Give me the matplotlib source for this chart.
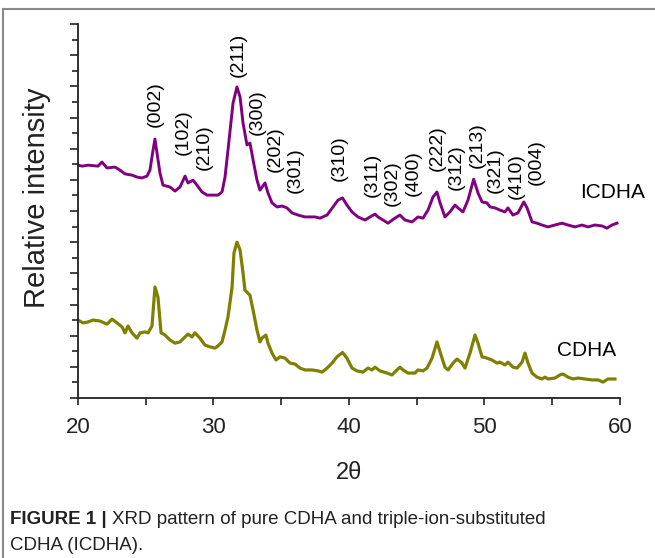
import matplotlib
matplotlib.use("Agg")
import matplotlib.pyplot as plt
from matplotlib.lines import Line2D
from matplotlib.ticker import MultipleLocator
from matplotlib import font_manager

# XRD patterns (2-theta in degrees, intensity in arbitrary units)
icdha_2theta = [20.0, 20.30, 20.74, 21.48, 21.77, 22.14, 22.73, 23.10, 23.47, 23.99, 24.35, 24.72,
                25.09, 25.31, 25.54, 25.68, 25.83, 26.05, 26.27, 26.79, 27.16, 27.53, 27.90, 28.12,
                28.49, 28.78, 29.15, 29.52, 29.96, 30.33, 30.63, 30.85, 31.07, 31.44, 31.73, 31.96,
                32.18, 32.47, 32.69, 32.92, 33.21, 33.43, 33.80, 34.02, 34.32, 34.69, 35.06, 35.42,
                35.79, 36.24, 36.75, 37.49, 37.86, 38.38, 38.82, 39.19, 39.52, 39.85, 40.22, 40.66,
                41.18, 41.55, 41.92, 42.14, 42.51, 42.88, 43.39, 43.76, 44.13, 44.65, 45.09, 45.46,
                45.83, 46.20, 46.49, 46.72, 47.08, 47.45, 47.82, 48.04, 48.41, 48.78, 49.20, 49.52,
                49.82, 50.18, 50.41, 50.77, 51.14, 51.51, 51.73, 52.10, 52.47, 52.90, 53.14, 53.51,
                53.87, 54.24, 54.69, 55.20, 55.72, 56.16, 56.68, 57.20, 57.64, 58.15, 58.67, 59.04,
                59.41, 59.78]
icdha_int = [7.47, 7.44, 7.47, 7.44, 7.57, 7.38, 7.41, 7.31, 7.19, 7.15, 7.09, 7.06,
             7.12, 7.31, 7.96, 8.31, 7.86, 7.22, 6.83, 6.77, 6.64, 6.77, 7.12, 6.90,
             6.99, 6.83, 6.61, 6.51, 6.51, 6.51, 6.61, 7.09, 7.96, 9.46, 9.98, 9.66,
             8.82, 8.12, 8.18, 7.64, 6.99, 6.67, 6.90, 6.58, 6.26, 6.13, 6.16, 6.10,
             5.94, 5.87, 5.81, 5.81, 5.77, 5.87, 6.13, 6.35, 6.42, 6.19, 5.97, 5.81,
             5.71, 5.81, 5.90, 5.81, 5.71, 5.61, 5.77, 5.87, 5.71, 5.65, 5.81, 5.77,
             6.03, 6.45, 6.61, 6.26, 5.81, 5.97, 6.19, 6.10, 5.97, 6.35, 7.02, 6.58,
             6.29, 6.26, 6.13, 6.10, 6.03, 5.97, 6.10, 5.87, 5.94, 6.29, 6.10, 5.65,
             5.61, 5.55, 5.49, 5.55, 5.61, 5.55, 5.49, 5.55, 5.49, 5.55, 5.52, 5.45,
             5.55, 5.61]

cdha_2theta = [20.0, 20.37, 20.74, 21.11, 21.62, 22.14, 22.51, 22.88, 23.25, 23.47, 23.69, 23.99,
               24.35, 24.58, 24.94, 25.17, 25.46, 25.68, 25.90, 26.13, 26.42, 26.79, 27.16, 27.53,
               27.90, 28.12, 28.41, 28.63, 29.00, 29.37, 29.74, 30.11, 30.33, 30.63, 30.85, 31.07,
               31.37, 31.51, 31.73, 31.96, 32.18, 32.32, 32.69, 32.92, 33.21, 33.43, 33.58, 33.87,
               34.02, 34.32, 34.61, 34.91, 35.28, 35.65, 36.01, 36.38, 36.75, 37.27, 37.71, 38.01,
               38.38, 38.75, 39.11, 39.52, 39.85, 40.22, 40.59, 41.03, 41.40, 41.70, 41.92, 42.29,
               42.80, 43.17, 43.54, 43.76, 43.99, 44.35, 44.87, 45.09, 45.46, 45.76, 46.13, 46.49,
               46.72, 47.08, 47.31, 47.68, 47.97, 48.34, 48.56, 48.93, 49.30, 49.52, 49.82, 50.18,
               50.55, 50.92, 51.14, 51.51, 51.73, 52.10, 52.40, 52.77, 52.99, 53.21, 53.51, 53.87,
               54.24, 54.47, 54.69, 55.20, 55.57, 55.79, 56.16, 56.53, 56.90, 57.42, 57.93, 58.38,
               58.75, 59.11, 59.63]
cdha_int = [2.50, 2.41, 2.44, 2.50, 2.47, 2.37, 2.53, 2.41, 2.28, 2.09, 2.31, 2.09,
            1.92, 2.09, 2.12, 2.09, 2.31, 3.56, 3.24, 2.09, 2.02, 1.86, 1.76, 1.80,
            1.96, 2.05, 1.96, 2.09, 1.92, 1.70, 1.64, 1.60, 1.67, 1.80, 2.18, 2.60,
            3.56, 4.65, 5.00, 4.75, 4.01, 3.46, 3.30, 2.82, 2.18, 1.80, 1.92, 2.02,
            1.76, 1.44, 1.22, 1.32, 1.28, 1.12, 1.09, 0.96, 0.90, 0.90, 0.87, 0.83,
            0.96, 1.12, 1.32, 1.46, 1.28, 0.96, 0.87, 0.83, 0.96, 0.90, 0.99, 0.87,
            0.80, 0.74, 0.90, 0.99, 0.90, 0.80, 0.80, 0.90, 0.87, 0.96, 1.28, 1.80,
            1.48, 0.99, 0.90, 1.12, 1.25, 1.12, 0.96, 1.44, 2.02, 1.76, 1.32, 1.28,
            1.22, 1.12, 1.15, 1.06, 1.15, 0.99, 0.96, 1.15, 1.44, 1.12, 0.80, 0.67,
            0.61, 0.67, 0.61, 0.64, 0.74, 0.77, 0.67, 0.61, 0.64, 0.61, 0.58, 0.58,
            0.51, 0.61, 0.61]

# Miller indices annotated above the ICDHA pattern
hkl_labels = ["(002)", "(102)", "(210)", "(211)", "(300)", "(202)", "(301)", "(310)", "(311)",
              "(302)", "(400)", "(222)", "(312)", "(213)", "(321)", "(410)", "(004)"]
hkl_2theta = [25.68, 27.75, 29.30, 31.81, 33.21, 34.55, 36.02, 39.26, 41.70,
              43.20, 44.75, 46.49, 47.90, 49.45, 50.78, 52.32, 53.85]
hkl_height = [9.43, 8.53, 8.05, 11.00, 9.18, 7.99, 7.31, 7.70, 7.15,
              6.90, 7.22, 8.02, 7.41, 8.12, 7.31, 7.12, 7.57]

PURPLE = "#800080"
OLIVE = "#808000"
INK = "#222222"

installed = {f.name for f in font_manager.fontManager.ttflist}
NARROW = "Liberation Sans Narrow" if "Liberation Sans Narrow" in installed else "Liberation Sans"
SANS = "Liberation Sans"
plt.rcParams["font.family"] = [SANS, "DejaVu Sans"]

fig = plt.figure(figsize=(6.55, 5.58), dpi=100)
ax = fig.add_axes([78 / 655, 160 / 558, 542 / 655, 374 / 558])

ax.plot(icdha_2theta, icdha_int, color=PURPLE, lw=2.1, solid_joinstyle="round")
ax.plot(cdha_2theta, cdha_int, color=OLIVE, lw=2.3, solid_joinstyle="round")

for lab, x, y in zip(hkl_labels, hkl_2theta, hkl_height):
    ax.text(x, y, lab, rotation=90, ha="center", va="center", fontsize=14, family=SANS)

ax.text(57.07, 6.58, "ICDHA", ha="left", va="center", fontsize=15, family=SANS, clip_on=False)
ax.text(55.35, 1.51, "CDHA", ha="left", va="center", fontsize=15, family=SANS)

ax.set_xlim(20, 60)
ax.set_ylim(0, 12)
ax.xaxis.set_major_locator(MultipleLocator(10))
ax.xaxis.set_minor_locator(MultipleLocator(5))
ax.yaxis.set_major_locator(MultipleLocator(1))
ax.yaxis.set_minor_locator(MultipleLocator(0.5))
ax.tick_params(which="both", direction="out", width=1.2, color=INK)
ax.tick_params(axis="x", which="both", length=5)
ax.tick_params(axis="y", which="major", length=6)
ax.tick_params(axis="y", which="minor", length=4)
ax.tick_params(axis="y", labelleft=False)
ax.tick_params(axis="x", labelsize=16, pad=9, labelcolor=INK)
for side in ["top", "right"]:
    ax.spines[side].set_visible(False)
for side in ["left", "bottom"]:
    ax.spines[side].set_linewidth(1.3)
    ax.spines[side].set_color(INK)

ax.set_ylabel("Relative intensity", fontsize=21, family=SANS, color=INK)
ax.yaxis.set_label_coords(-0.05, 0.535)
ax.set_xlabel("2θ", fontsize=17, family=NARROW, labelpad=17, color=INK)

# page frame lines as in the journal layout
fig.add_artist(Line2D([3 / 655, 1], [1 - 9 / 558, 1 - 9 / 558], transform=fig.transFigure,
                      color="#8a8a8a", lw=1.5))
fig.add_artist(Line2D([3 / 655, 3 / 655], [0, 1 - 9 / 558], transform=fig.transFigure,
                      color="#8a8a8a", lw=1.5))

# caption: bold figure tag followed by regular text
renderer = fig.canvas.get_renderer()
tag = fig.text(10 / 655, 1 - 520 / 558, "FIGURE 1 | ", fontsize=13.5, family=NARROW,
               weight="bold", va="center", color=INK)
bb = tag.get_window_extent(renderer=renderer)
fig.text(bb.x1 / fig.bbox.width, 1 - 520 / 558,
         "XRD pattern of pure CDHA and triple-ion-substituted", fontsize=13.5, family=NARROW,
         va="center", color=INK)
fig.text(10 / 655, 1 - 545 / 558, "CDHA (ICDHA).", fontsize=13.5, family=NARROW,
         va="center", color=INK)

fig.savefig("out.png", dpi=100)
